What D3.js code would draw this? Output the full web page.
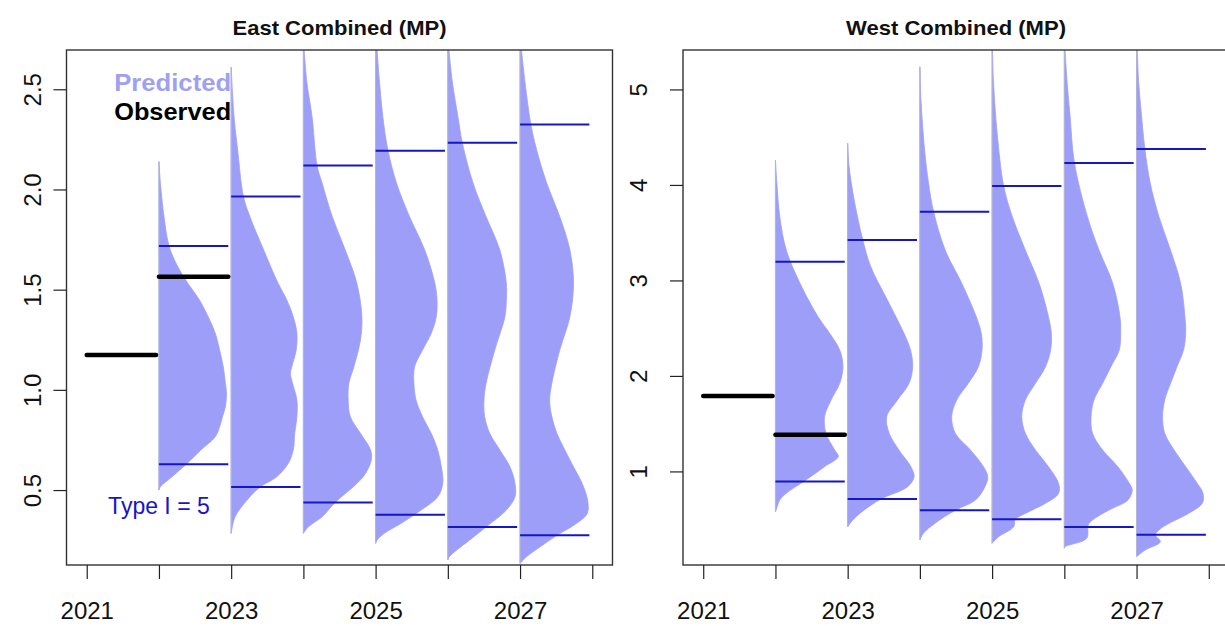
<!DOCTYPE html>
<html>
<head>
<meta charset="utf-8">
<script src="https://cdn.jsdelivr.net/npm/d3@7"></script>
<style>
  html, body { margin: 0; padding: 0; background: #fff; }
  svg { display: block; }
  text { font-family: "Liberation Sans", Arial, sans-serif; }
</style>
</head>
<body>
<svg id="chart" width="1225" height="626"></svg>
<script>
// ---------------- data ----------------
const predYears = [2022, 2023, 2024, 2025, 2026, 2027];
const axisYears = [2021, 2022, 2023, 2024, 2025, 2026, 2027, 2028];
const obsYears = [2021, 2022];

const eastUpper = [1.718, 1.965, 2.119, 2.193, 2.233, 2.324];
const eastLower = [0.629, 0.515, 0.438, 0.377, 0.316, 0.274];
const eastObs = [1.174, 1.565];
const eastTicks = [0.5, 1.0, 1.5, 2.0, 2.5];

const westUpper = [3.196, 3.423, 3.719, 3.99, 4.23, 4.376];
const westLower = [0.895, 0.711, 0.593, 0.498, 0.419, 0.336];
const westObs = [1.79, 1.383];
const westTicks = [1, 2, 3, 4, 5];

// density profiles: [value, relative width]
const east2022 = [[2.139,0],[2.031,0.02],[1.864,0.07],[1.718,0.14],[1.615,0.26],[1.532,0.40],[1.449,0.56],[1.366,0.68],[1.282,0.78],[1.199,0.84],[1.116,0.89],[1.033,0.92],[0.983,0.935],[0.916,0.92],[0.866,0.88],[0.816,0.84],[0.766,0.78],[0.70,0.58],[0.633,0.39],[0.566,0.18],[0.516,0.02],[0.50,0]];
const east2023 = [[2.61,0],[2.363,0.04],[2.197,0.09],[1.965,0.17],[1.864,0.26],[1.698,0.45],[1.532,0.65],[1.449,0.77],[1.365,0.86],[1.282,0.91],[1.199,0.90],[1.116,0.84],[1.082,0.82],[1.033,0.85],[0.949,0.91],[0.866,0.91],[0.783,0.88],[0.70,0.86],[0.633,0.79],[0.566,0.63],[0.515,0.40],[0.45,0.22],[0.367,0.055],[0.284,0]];
const east2024 = [[2.696,0.01],[2.53,0.05],[2.363,0.12],[2.119,0.19],[2.031,0.26],[1.864,0.40],[1.698,0.58],[1.532,0.74],[1.365,0.81],[1.249,0.79],[1.116,0.70],[1.033,0.63],[0.949,0.62],[0.866,0.65],[0.783,0.79],[0.70,0.93],[0.65,0.94],[0.583,0.86],[0.533,0.74],[0.438,0.44],[0.367,0.26],[0.317,0.07],[0.284,0]];
const east2025 = [[2.696,0.02],[2.53,0.055],[2.363,0.10],[2.197,0.17],[2.031,0.29],[1.864,0.47],[1.698,0.68],[1.532,0.82],[1.449,0.85],[1.365,0.84],[1.282,0.77],[1.199,0.65],[1.116,0.54],[1.033,0.53],[0.949,0.56],[0.866,0.65],[0.783,0.77],[0.70,0.86],[0.616,0.91],[0.533,0.93],[0.466,0.86],[0.40,0.63],[0.333,0.35],[0.284,0.12],[0.25,0.02],[0.234,0]];
const east2026 = [[2.696,0.015],[2.53,0.065],[2.363,0.14],[2.233,0.20],[2.031,0.35],[1.864,0.53],[1.698,0.72],[1.532,0.81],[1.449,0.81],[1.365,0.79],[1.199,0.65],[1.033,0.53],[0.949,0.50],[0.866,0.51],[0.783,0.58],[0.70,0.72],[0.616,0.86],[0.533,0.93],[0.466,0.93],[0.40,0.81],[0.316,0.53],[0.25,0.30],[0.20,0.12],[0.167,0.02],[0.151,0]];
const east2027 = [[2.696,0.02],[2.53,0.07],[2.324,0.15],[2.197,0.23],[2.031,0.37],[1.864,0.55],[1.698,0.69],[1.532,0.74],[1.365,0.69],[1.199,0.55],[1.033,0.44],[0.949,0.41],[0.866,0.44],[0.783,0.51],[0.70,0.62],[0.616,0.74],[0.533,0.86],[0.449,0.935],[0.383,0.93],[0.333,0.78],[0.274,0.51],[0.217,0.28],[0.167,0.09],[0.134,0]];

const west2022 = [[4.26,0],[4.017,0.02],[3.667,0.06],[3.318,0.15],[2.97,0.34],[2.62,0.59],[2.446,0.75],[2.271,0.89],[2.097,0.935],[1.922,0.89],[1.748,0.77],[1.573,0.68],[1.399,0.70],[1.224,0.82],[1.155,0.87],[1.05,0.68],[0.899,0.40],[0.771,0.15],[0.70,0.06],[0.596,0.01],[0.578,0]];
const west2023 = [[4.436,0],[4.19,0.02],[3.842,0.09],[3.423,0.21],[3.144,0.32],[2.795,0.55],[2.446,0.78],[2.271,0.87],[2.097,0.90],[1.922,0.85],[1.748,0.69],[1.573,0.54],[1.399,0.575],[1.224,0.71],[1.05,0.875],[0.945,0.92],[0.84,0.83],[0.711,0.46],[0.596,0.23],[0.491,0.07],[0.42,0]];
const west2024 = [[5.238,0],[4.889,0.015],[4.365,0.065],[4.017,0.12],[3.719,0.19],[3.318,0.35],[2.97,0.58],[2.62,0.78],[2.446,0.85],[2.271,0.86],[2.097,0.81],[1.922,0.67],[1.748,0.51],[1.573,0.44],[1.399,0.49],[1.224,0.70],[1.05,0.88],[0.945,0.94],[0.84,0.90],[0.70,0.77],[0.593,0.49],[0.457,0.21],[0.353,0.05],[0.282,0]];
const west2025 = [[5.413,0.005],[5.064,0.02],[4.54,0.07],[3.99,0.16],[3.667,0.28],[3.318,0.46],[2.97,0.65],[2.62,0.78],[2.446,0.82],[2.271,0.81],[2.097,0.74],[1.922,0.60],[1.748,0.46],[1.573,0.41],[1.399,0.46],[1.224,0.60],[1.05,0.78],[0.875,0.92],[0.77,0.92],[0.666,0.74],[0.56,0.46],[0.498,0.32],[0.421,0.30],[0.316,0.09],[0.247,0]];
const west2026 = [[5.413,0.01],[5.064,0.04],[4.714,0.08],[4.23,0.14],[3.667,0.32],[3.318,0.48],[2.97,0.67],[2.62,0.77],[2.446,0.78],[2.271,0.76],[2.097,0.645],[1.922,0.53],[1.748,0.41],[1.573,0.37],[1.399,0.39],[1.224,0.53],[1.05,0.74],[0.875,0.90],[0.805,0.94],[0.70,0.88],[0.596,0.62],[0.491,0.39],[0.44,0.33],[0.30,0.31],[0.212,0.01],[0.195,0]];
const west2027 = [[5.413,0.01],[5.064,0.03],[4.714,0.07],[4.376,0.115],[4.017,0.19],[3.667,0.31],[3.318,0.47],[2.97,0.61],[2.62,0.67],[2.446,0.68],[2.271,0.65],[2.097,0.56],[1.922,0.47],[1.748,0.39],[1.573,0.36],[1.399,0.39],[1.224,0.52],[1.05,0.68],[0.875,0.84],[0.77,0.92],[0.666,0.91],[0.56,0.72],[0.456,0.45],[0.386,0.31],[0.334,0.26],[0.264,0.33],[0.177,0.12],[0.107,0]];

const eastDens = [east2022, east2023, east2024, east2025, east2026, east2027];
const westDens = [west2022, west2023, west2024, west2025, west2026, west2027];

// ---------------- style ----------------
const FILL = "#9d9ef8";
const QCOL = "#1616c4";
const LABEL_FONT = 24;

const svg = d3.select("#chart");

function panel(opts) {
  const g = svg.append("g");
  const x = d3.scaleLinear().domain([2020.72, 2028.28]).range([opts.left, opts.left + 546]);
  const y = d3.scaleLinear().domain(opts.yDomain).range([565, 50]);
  const top = 50, bottom = 565;

  const clipId = "clip" + opts.id;
  svg.append("clipPath").attr("id", clipId)
    .append("rect").attr("x", x.range()[0]).attr("y", top)
    .attr("width", x.range()[1] - x.range()[0]).attr("height", bottom - top);

  const plot = g.append("g").attr("clip-path", `url(#${clipId})`);

  // densities
  opts.dens.forEach((prof, i) => {
    const yr = predYears[i];
    const area = d3.area()
      .curve(d3.curveCatmullRom.alpha(0.5))
      .y(d => y(d[0]))
      .x0(x(yr))
      .x1(d => x(yr + d[1]));
    plot.append("path").attr("d", area(prof))
      .attr("fill", FILL).attr("stroke", FILL).attr("stroke-width", 0.8);
    plot.append("line")
      .attr("x1", x(yr)).attr("x2", x(yr))
      .attr("y1", y(prof[0][0])).attr("y2", y(prof[prof.length - 1][0]))
      .attr("stroke", "#b4b4dc").attr("stroke-width", 1);
  });

  // quantile lines
  [opts.upper, opts.lower].forEach(arr => {
    plot.selectAll(null).data(arr).enter().append("line")
      .attr("x1", (d, i) => x(predYears[i]))
      .attr("x2", (d, i) => x(predYears[i] + 0.96))
      .attr("y1", d => y(d)).attr("y2", d => y(d))
      .attr("stroke", QCOL).attr("stroke-width", 2);
  });

  // observed
  plot.selectAll(null).data(opts.obs).enter().append("line")
    .attr("x1", (d, i) => x(obsYears[i]))
    .attr("x2", (d, i) => x(obsYears[i] + 0.96))
    .attr("y1", d => y(d)).attr("y2", d => y(d))
    .attr("stroke", "#000").attr("stroke-width", 4.5).attr("stroke-linecap", "round");

  // box
  g.append("rect").attr("x", x.range()[0]).attr("y", top)
    .attr("width", x.range()[1] - x.range()[0]).attr("height", bottom - top)
    .attr("fill", "none").attr("stroke", "#333").attr("stroke-width", 1.4);

  // x axis
  const xa = g.append("g").attr("transform", `translate(0,${bottom})`)
    .call(d3.axisBottom(x).tickValues(axisYears)
      .tickFormat(d => (d % 2 === 1 ? String(d) : ""))
      .tickSize(14).tickSizeOuter(0).tickPadding(0));
  xa.select(".domain").remove();
  xa.selectAll(".tick line").attr("stroke", "#222").attr("stroke-width", 1.2);
  xa.selectAll(".tick text").attr("font-size", LABEL_FONT).attr("fill", "#111")
    .attr("font-family", "Liberation Sans, Arial, sans-serif")
    .attr("dy", null).attr("y", 54);

  // y axis
  const ya = g.append("g").attr("transform", `translate(${x.range()[0]},0)`)
    .call(d3.axisLeft(y).tickValues(opts.ticks)
      .tickFormat(opts.fmt).tickSize(13).tickSizeOuter(0));
  ya.select(".domain").remove();
  ya.selectAll(".tick line").attr("stroke", "#222").attr("stroke-width", 1.2);
  ya.selectAll(".tick text").attr("font-size", LABEL_FONT).attr("fill", "#111")
    .attr("font-family", "Liberation Sans, Arial, sans-serif")
    .attr("text-anchor", "middle").attr("dy", null)
    .attr("transform", "rotate(-90)")
    .attr("x", 0).attr("y", -opts.ylabOff);

  // title
  g.append("text").attr("x", (x.range()[0] + x.range()[1]) / 2).attr("y", 35)
    .attr("text-anchor", "middle").attr("font-weight", "bold").attr("font-size", 21)
    .attr("textLength", opts.titleLen).attr("lengthAdjust", "spacingAndGlyphs")
    .attr("fill", "#111").text(opts.title);

  return { g, x, y };
}

const east = panel({
  id: "E", left: 66.5, yDomain: [0.126, 2.696], dens: eastDens,
  upper: eastUpper, lower: eastLower, obs: eastObs, ticks: eastTicks,
  fmt: d3.format(".1f"), ylabOff: 26, title: "East Combined (MP)", titleLen: 214
});
const west = panel({
  id: "W", left: 683, yDomain: [0.02, 5.413], dens: westDens,
  upper: westUpper, lower: westLower, obs: westObs, ticks: westTicks,
  fmt: d3.format("d"), ylabOff: 36, title: "West Combined (MP)", titleLen: 220
});

// legend + annotation on east panel
east.g.append("text").attr("x", east.x(2023)).attr("y", 90.5)
  .attr("text-anchor", "end").attr("font-weight", "bold").attr("font-size", 24)
  .attr("textLength", 117).attr("lengthAdjust", "spacingAndGlyphs")
  .attr("fill", "#a0a0f2").text("Predicted");
east.g.append("text").attr("x", east.x(2023)).attr("y", 120)
  .attr("text-anchor", "end").attr("font-weight", "bold").attr("font-size", 24)
  .attr("textLength", 117).attr("lengthAdjust", "spacingAndGlyphs")
  .attr("fill", "#000").text("Observed");
east.g.append("text").attr("x", east.x(2022)).attr("y", 514)
  .attr("text-anchor", "middle").attr("font-size", 23)
  .attr("fill", QCOL).text("Type I = 5");
</script>
</body>
</html>
